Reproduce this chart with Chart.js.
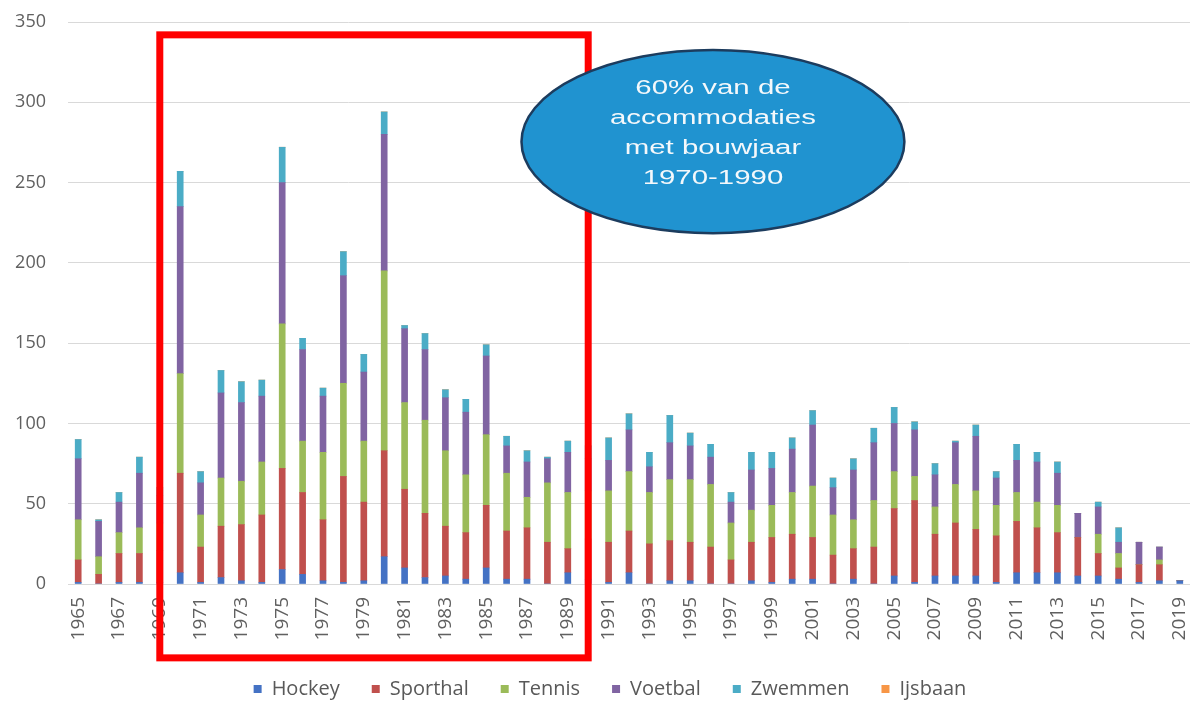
<!DOCTYPE html>
<html>
<head>
<meta charset="utf-8">
<script src="https://cdn.jsdelivr.net/npm/chart.js@4.4.1/dist/chart.umd.min.js"></script>
<style>
  html, body { margin: 0; padding: 0; background: #fff; }
  #wrap { width: 1190px; height: 702px; }
</style>
</head>
<body>
<div id="wrap"><canvas id="bouwjaarChart" width="1190" height="702"></canvas></div>
<script>
// bouwjaren 1965 - 2019
const years = [];
for (let y = 1965; y <= 2019; y++) years.push(String(y));

const hockey = [1,0,1,1,1,7,1,4,2,1,9,6,2,1,2,17,10,4,5,3,10,3,3,0,7,3,
  1,7,0,2,2,0,0,2,1,3,3,0,3,0,5,1,5,5,5,1,7,7,7,5,5,3,1,2,2];
const sporthal = [14,6,18,18,20,62,22,32,35,42,63,51,38,66,49,66,49,40,31,29,39,30,32,26,15,25,
  25,26,25,25,24,23,15,24,28,28,26,18,19,23,42,51,26,33,29,29,32,28,25,24,14,7,11,10,0];
const tennis = [25,11,13,16,17,62,20,30,27,33,90,32,42,58,38,112,54,58,47,36,44,36,19,37,35,30,
  32,37,32,38,39,39,23,20,20,26,32,25,18,29,23,15,17,24,24,19,18,16,17,0,12,9,0,3,0];
const voetbal = [38,22,19,34,17,104,20,53,49,41,88,57,35,67,43,85,46,44,33,39,49,17,22,15,25,20,
  19,26,16,23,21,17,13,25,23,27,38,17,31,36,30,29,20,26,34,17,20,25,20,15,17,7,14,8,0];
const zwemmen = [12,1,6,10,5,22,7,14,13,10,22,7,5,15,11,14,2,10,5,8,7,6,7,1,7,8,
  14,10,9,17,8,8,6,11,10,7,9,6,7,9,10,5,7,1,7,4,10,6,7,0,3,9,0,0,0];
const ijsbaan = new Array(years.length).fill(0);

const yTicks = [0, 50, 100, 150, 200, 250, 300, 350];

// kader 1969-1990 en ballon met toelichting
const boxFrom = 4, boxTo = 25, boxTop = 342, boxBottom = -46;
const noteLines = ['60% van de', 'accommodaties', 'met bouwjaar', '1970-1990'];

const overlay = {
    id: 'overlay',
    afterLayout(chart) {
        // legend sits a bit right of centre in the original
        chart.legend.left += 15;
        chart.legend.right += 15;
    },
    afterDatasetsDraw(chart) {
        const ctx = chart.ctx;
        const x = chart.scales.x, y = chart.scales.y;

        // red box
        ctx.save();
        ctx.strokeStyle = '#FF0000';
        ctx.lineWidth = 7;
        ctx.strokeRect(x.getPixelForValue(boxFrom), y.getPixelForValue(boxTop),
            x.getPixelForValue(boxTo) - x.getPixelForValue(boxFrom),
            y.getPixelForValue(boxBottom) - y.getPixelForValue(boxTop));

        // ellipse
        const left = x.getPixelForValue(21.73), right = x.getPixelForValue(40.5);
        const top = y.getPixelForValue(332.5), bottom = y.getPixelForValue(218.5);
        const cx = (left + right) / 2, cy = (top + bottom) / 2;
        ctx.beginPath();
        ctx.ellipse(cx, cy, (right - left) / 2, (bottom - top) / 2, 0, 0, Math.PI * 2);
        ctx.fillStyle = '#2093D0';
        ctx.fill();
        ctx.lineWidth = 2.5;
        ctx.strokeStyle = '#1C3C5E';
        ctx.stroke();

        ctx.fillStyle = '#F4F8FB';
        ctx.font = '20px "Liberation Sans", Arial, sans-serif';
        ctx.textAlign = 'center';
        ctx.textBaseline = 'middle';
        noteLines.forEach((line, i) => {
            ctx.save();
            ctx.translate(cx, cy - 53 + i * 30);
            ctx.scale(1.47, 1);
            ctx.fillText(line, 0, 0);
            ctx.restore();
        });
        ctx.restore();
    }
};

const ctx = document.getElementById('bouwjaarChart').getContext('2d');
new Chart(ctx, {
    type: 'bar',
    data: {
        labels: years,
        datasets: [
            { label: 'Hockey', data: hockey, backgroundColor: '#4472C4', barThickness: 6 },
            { label: 'Sporthal', data: sporthal, backgroundColor: '#C0504D', barThickness: 6 },
            { label: 'Tennis', data: tennis, backgroundColor: '#9BBB59', barThickness: 6 },
            { label: 'Voetbal', data: voetbal, backgroundColor: '#8064A2', barThickness: 6 },
            { label: 'Zwemmen', data: zwemmen, backgroundColor: '#4BACC6', barThickness: 6 },
            { label: 'Ijsbaan', data: ijsbaan, backgroundColor: '#F79646', barThickness: 6 }
        ]
    },
    options: {
        responsive: false,
        animation: false,
        layout: { padding: { top: 22, right: 0, left: 0, bottom: -7 } },
        scales: {
            x: {
                stacked: true,
                grid: { display: false, drawTicks: false },
                border: { color: '#D9D9D9' },
                afterFit: s => { s.height = 63; s.paddingLeft = 0; s.paddingRight = 0; },
                ticks: {
                    autoSkip: false,
                    minRotation: 90,
                    maxRotation: 90,
                    padding: 13,
                    color: '#606060',
                    font: { family: 'Open Sans', size: 19 },
                    callback: function (v, i) { return i % 2 === 0 ? years[i] : ''; }
                }
            },
            y: {
                stacked: true,
                min: 0,
                max: 350,
                afterFit: s => { s.width = 68; s.paddingTop = 0; s.paddingBottom = 0; },
                afterBuildTicks: s => { s.ticks = yTicks.map(v => ({ value: v })); },
                grid: { color: '#D9D9D9', drawTicks: false },
                border: { display: false },
                ticks: {
                    padding: 22,
                    color: '#606060',
                    font: { family: 'Open Sans', size: 18 }
                }
            }
        },
        plugins: {
            legend: {
                position: 'bottom',
                labels: {
                    boxWidth: 8,
                    boxHeight: 8,
                    padding: 32,
                    color: '#595959',
                    font: { family: 'Open Sans', size: 20 }
                }
            },
            tooltip: { enabled: false }
        }
    },
    plugins: [overlay, {
        id: 'bg',
        beforeDraw(c) {
            c.ctx.save();
            c.ctx.fillStyle = '#fff';
            c.ctx.fillRect(0, 0, c.width, c.height);
            c.ctx.restore();
        }
    }]
});
</script>
</body>
</html>
